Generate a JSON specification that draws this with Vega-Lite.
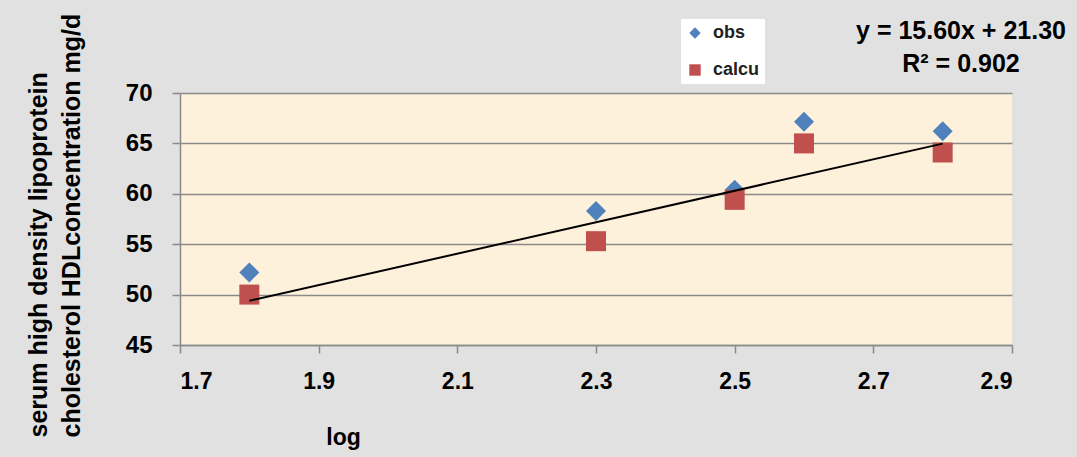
{
  "$schema": "https://vega.github.io/schema/vega-lite/v6.json",
  "width": 832,
  "height": 252,
  "autosize": {"type": "none"},
  "padding": {"left": 180, "top": 93, "right": 65, "bottom": 112},
  "background": "#e1e1e1",
  "config": {
    "view": {"fill": "#fdf1db", "stroke": null},
    "font": "Liberation Sans",
    "legend": {
      "orient": "none",
      "legendX": 501,
      "legendY": -74,
      "fillColor": "#ffffff",
      "padding": 5,
      "symbolSize": 130,
      "symbolStrokeWidth": 0,
      "labelFont": "Liberation Sans",
      "labelFontSize": 18,
      "labelFontWeight": "bold",
      "labelColor": "#222222",
      "labelOffset": 9,
      "rowPadding": 19
    }
  },
  "title": {
    "text": "y = 15.60x + 21.30",
    "subtitle": "R² = 0.902",
    "anchor": "end",
    "frame": "group",
    "align": "center",
    "dx": -51,
    "offset": -64,
    "font": "Liberation Sans",
    "fontSize": 25,
    "fontWeight": "bold",
    "color": "#000000",
    "subtitleFont": "Liberation Sans",
    "subtitleFontSize": 25,
    "subtitleFontWeight": "bold",
    "subtitleColor": "#000000",
    "subtitlePadding": 8
  },
  "datasets": {
    "points": [
      {"series": "obs", "log": 1.8, "hdl": 52.2},
      {"series": "obs", "log": 2.3, "hdl": 58.3},
      {"series": "obs", "log": 2.5, "hdl": 60.4},
      {"series": "obs", "log": 2.6, "hdl": 67.15},
      {"series": "obs", "log": 2.8, "hdl": 66.2},
      {"series": "calcu", "log": 1.8, "hdl": 50.0},
      {"series": "calcu", "log": 2.3, "hdl": 55.3},
      {"series": "calcu", "log": 2.5, "hdl": 59.4},
      {"series": "calcu", "log": 2.6, "hdl": 65.0},
      {"series": "calcu", "log": 2.8, "hdl": 64.1}
    ],
    "trend": [
      {"log": 1.8, "hdl": 49.38},
      {"log": 2.8, "hdl": 64.98}
    ]
  },
  "layer": [
    {
      "data": {"name": "points"},
      "mark": {"type": "point", "filled": true, "opacity": 1, "size": 400, "strokeWidth": 0},
      "encoding": {
        "x": {
          "field": "log",
          "type": "quantitative",
          "scale": {"domain": [1.7, 2.9], "nice": false, "zero": false},
          "axis": {
            "values": [1.7, 1.9, 2.1, 2.3, 2.5, 2.7, 2.9],
            "format": ".1f",
            "grid": false,
            "domainColor": "#8a8a8a",
            "domainWidth": 1.5,
            "tickColor": "#8a8a8a",
            "tickWidth": 1.5,
            "tickSize": 8,
            "labelFont": "Liberation Sans",
            "labelFontSize": 23,
            "labelFontWeight": "bold",
            "labelColor": "#000000",
            "labelPadding": 17,
            "title": "log",
            "titleFont": "Liberation Sans",
            "titleFontSize": 23,
            "titleFontWeight": "bold",
            "titleColor": "#000000",
            "titleAnchor": "start",
            "titleAlign": "center",
            "titleBaseline": "alphabetic",
            "titleX": 163,
            "titleY": 99
          }
        },
        "y": {
          "field": "hdl",
          "type": "quantitative",
          "scale": {"domain": [45, 70], "nice": false, "zero": false},
          "axis": {
            "values": [45, 50, 55, 60, 65, 70],
            "grid": true,
            "gridColor": "#8a8a8a",
            "gridWidth": 1.5,
            "domainColor": "#8a8a8a",
            "domainWidth": 1.5,
            "tickColor": "#8a8a8a",
            "tickWidth": 1.5,
            "tickSize": 8,
            "labelFont": "Liberation Sans",
            "labelFontSize": 24,
            "labelFontWeight": "bold",
            "labelColor": "#000000",
            "labelPadding": 20,
            "title": ["serum high density lipoprotein", "cholesterol HDLconcentration mg/d"],
            "titleFont": "Liberation Sans",
            "titleFontSize": 25,
            "titleFontWeight": "bold",
            "titleColor": "#000000",
            "titleLineHeight": 33,
            "titleAngle": -90,
            "titleAlign": "left",
            "titleBaseline": "alphabetic",
            "titleX": -134,
            "titleY": 344
          }
        },
        "shape": {
          "field": "series",
          "type": "nominal",
          "scale": {"domain": ["obs", "calcu"], "range": ["diamond", "square"]},
          "legend": {"title": null}
        },
        "color": {
          "field": "series",
          "type": "nominal",
          "scale": {"domain": ["obs", "calcu"], "range": ["#4f81bd", "#c0504d"]},
          "legend": {"title": null}
        }
      }
    },
    {
      "data": {"name": "trend"},
      "mark": {"type": "line", "color": "#000000", "strokeWidth": 2},
      "encoding": {
        "x": {"field": "log", "type": "quantitative"},
        "y": {"field": "hdl", "type": "quantitative"}
      }
    }
  ]
}
